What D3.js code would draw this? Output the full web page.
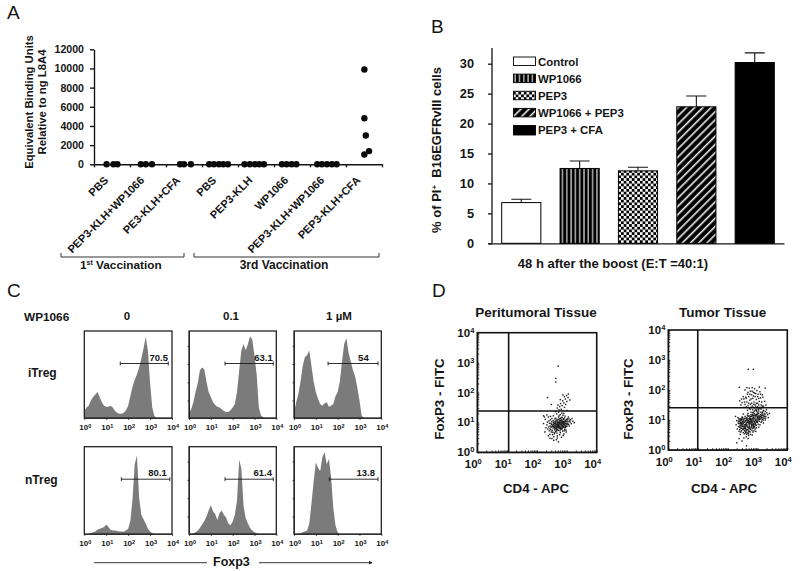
<!DOCTYPE html>
<html><head><meta charset="utf-8">
<script src="https://cdnjs.cloudflare.com/ajax/libs/d3/7.8.5/d3.min.js"></script>
<style>
html,body{margin:0;padding:0;background:#fff}
svg{display:block}
text{font-family:"Liberation Sans",Arial,sans-serif;fill:#151515}
.b{font-weight:bold}
</style></head><body>
<svg id="c" width="800" height="571"></svg>
<script>
// ---------- Panel A ----------
const groupLabels=["PBS","PEP3-KLH+WP1066","PE3-KLH+CFA","PBS","PEP3-KLH","WP1066","PEP3-KLH+WP1066","PEP3-KLH+CFA"];
const bindingTicks=[0,2000,4000,6000,8000,10000,12000];
const dotGroupPos=[.35,.54,.65,1.30,1.44,1.61,2.39,2.5,2.69,3.20,3.33,3.47,3.59,3.72,4.18,4.33,4.47,4.59,4.72,5.22,5.35,5.49,5.62,6.20,6.33,6.47,6.61,6.74,7.51,7.51,7.55,7.51,7.64];
const dotValues=[0,0,0,0,0,0,0,0,0,0,0,0,0,0,0,0,0,0,0,0,0,0,0,0,0,0,0,0,9900,4800,3000,1030,1380];
// ---------- Panel B ----------
const barLabels=["Control","WP1066","PEP3","WP1066 + PEP3","PEP3 + CFA"];
const barValues=[6.8,12.5,12.1,22.8,30.2];
const barUpper=[7.35,13.75,12.7,24.6,31.8];
const barTicks=[0,5,10,15,20,25,30];
// ---------- Panel C ----------
const histDecades=[0,.1,.2,.3,.4,.5,.6,.7,.8,.9,1,1.1,1.2,1.3,1.4,1.5,1.6,1.7,1.8,1.9,2,2.1,2.2,2.3,2.4,2.5,2.6,2.7,2.8,2.9,3,3.1,3.2,3.3,3.4,3.5,4];
const iTreg0=[8,12,14,20,24,27,30,24,18,14,13,13,14,12,8,6,5,5,6,9,14,25,36,44,50,58,68,80,93,78,40,12,2,0,0,0,0];
const iTreg01=[6,10,18,30,40,55,58,56,42,30,24,18,15,13,12,10,8,7,7,9,12,16,30,55,78,85,78,85,94,90,72,50,12,3,1,0,0];
const iTreg1=[6,18,28,42,60,70,72,78,60,42,30,22,16,14,17,18,13,14,16,25,30,42,65,85,92,75,65,55,48,35,20,3,0,0,0,0,0];
const nTreg0=[0,0,0,1,2,3,5,6,7,8,11,8,5,4,4,3.5,3,3,3,4,6,15,40,80,90,42,22,17,12,6,3,1,0,0,0,0,0];
const nTreg01=[0,0,1,2,4,7,11,15,20,27,33,26,23,16,24,27,22,19,12,10,14,22,38,85,75,32,18,12,7,4,2,1,0,0,0,0,0];
const nTreg1=[0,0,0,1,2,3,4,12,35,60,82,76,72,88,94,80,86,65,30,10,2,0,0,0,0,0,0,0,0,0,0,0,0,0,0,0,0];
const gateStart=[1.64,1.65,1.56,1.69,1.65,1.62];
const gateEnd=[3.83,3.86,3.85,3.9,3.86,3.85];
const gatePct=["70.5","63.1","54","80.1","61.4","13.8"];
const doseLabels=["0","0.1","1 µM"];
const decadeLabels=[0,1,2,3,4];
// ---------- Panel D (log10 x 100) ----------
const periCloud=[275,95,262,88,281,102,290,110,268,76,255,99,247,84,299,95,305,118,286,71,272,118,258,62,240,105,233,92,311,101,296,83,278,66,265,108,251,73,243,60,287,124,270,87,293,77,283,91,260,112,249,93,276,59,301,108,317,113,236,78,266,94,285,84,272,101,254,81,291,99,279,113,263,70,245,109,298,68,308,88,288,56,256,52,274,79,282,109,269,99,252,90,294,121,303,97,239,85,277,84,261,95,289,92,267,64,284,117,271,73,257,104,248,68,295,106,280,77,264,83,250,113,309,105,273,90,286,96,259,75,242,97,300,87,276,104,292,115,268,55,253,67,283,80,270,110,262,101,297,74,288,103,278,94,265,87,244,88,306,93,281,88,256,86,274,108,290,83,271,93,260,66,246,76,315,96,285,101,266,78,279,99,294,90,258,97,235,101,302,112,320,104,273,84,263,114,252,59,287,87,277,72,269,92,296,102,283,97,261,80,254,106,291,72,241,72,275,112,230,82,228,110,312,109,325,99,222,96,226,68,238,55,250,46,265,42,272,35,256,40,243,47,268,48,282,50,290,61,238,118,225,118,245,120,255,122,222,122,233,125,
  // dense core
  273,98,277,91,282,95,268,90,264,93,259,88,286,104,291,95,295,87,279,106,270,96,275,86,284,78,266,85,262,97,257,92,287,98,292,103,298,110,280,83,272,88,267,101,276,100,283,108,289,86,293,94,271,82,265,72,260,84,255,94,250,86,288,112,281,116,274,122,268,105,263,104,278,80,285,90,290,101,296,96,301,92,304,103,307,112,299,103,294,84,269,84,264,78,258,82,253,88,247,96,244,78,249,102,
  // upper tail
  266,128,272,134,278,126,283,131,274,142,268,148,281,144,288,139,292,150,276,153,270,158,284,156,296,160,290,165,300,170,286,172,279,163,295,178,304,183,292,186,299,190,278,176,287,192,305,195,310,175,262,136,290,130,300,140,235,183,248,160,
  // outliers
  271,288,263,247,263,235];
const tumorCloud=[286,100,270,92,300,108,310,118,264,80,254,100,246,84,278,76,292,88,322,120,304,130,282,114,262,66,272,62,250,70,240,94,258,112,296,74,316,102,328,112,288,64,276,106,268,122,290,130,306,96,244,60,252,88,266,98,284,90,298,120,312,136,280,82,260,76,274,96,294,102,308,84,320,132,236,78,248,110,256,54,270,48,286,74,302,112,278,118,264,108,288,96,254,72,242,104,296,92,314,114,326,128,284,124,272,84,262,90,250,96,238,88,276,68,292,110,304,122,318,108,268,74,258,62,280,100,300,94,290,78,246,72,334,118,310,104,282,72,266,56,274,110,256,84,244,92,286,116,298,128,322,106,294,62,264,100,252,58,278,90,270,104,240,68,306,140,316,124,288,106,260,98,248,78,282,84,296,114,272,76,284,60,302,86,330,134,312,92,276,52,262,44,254,40,268,38,236,96,232,70,242,52,250,108,290,94,308,110,280,112,298,100,274,88,258,106,266,116,288,84,304,76,320,90,294,134,286,126,246,102,238,62,270,60,282,50,264,86,276,98,292,70,318,128,326,100,340,122,336,108,300,118,314,96,256,92,244,80,228,84,230,98,226,112,234,108,252,120,260,58,272,72,284,104,296,82,306,104,278,126,268,112,290,116,252,78,242,88,248,90,262,104,274,102,286,88,302,100,280,92,266,68,258,80,272,94,288,74,
  // dense core
  283,96,277,102,271,88,265,94,259,84,255,78,249,92,245,98,241,82,237,104,251,102,261,70,267,78,273,80,279,86,285,82,291,92,297,96,303,104,309,112,315,120,301,124,295,118,289,122,283,118,277,112,271,114,265,104,259,96,253,94,247,106,243,74,257,66,263,60,269,66,275,72,281,78,287,86,293,98,299,106,305,114,311,126,317,116,323,112,313,108,307,102,299,92,293,84,287,78,281,66,275,60,269,54,263,52,258,72,252,68,246,64,240,76,235,90,239,100,245,88,251,80,257,74,263,82,269,98,275,92,281,104,287,110,293,116,299,112,305,108,311,112,319,100,325,120,331,124,327,106,321,114,315,108,291,104,285,108,279,96,273,104,267,92,261,86,255,104,249,84,243,100,
  // upper region
  282,146,292,150,300,156,276,152,268,148,288,160,296,168,306,162,312,150,284,172,274,166,264,160,258,152,270,178,280,184,292,178,302,186,310,174,286,192,276,196,266,186,254,170,248,158,240,164,252,178,244,150,298,198,308,194,290,204,282,208,272,206,318,176,324,162,328,150,316,146,300,144,262,144,272,138,290,140,304,136,284,134,254,142,296,132,310,140,278,170,268,192,260,176,294,188,304,172,280,156,316,184,306,210,258,200,264,208,239,209,294,144,288,152,278,142,270,156,262,172,286,180,296,156,304,150,314,160,320,146,308,142,298,136,286,142,276,136,266,132,256,160,246,170,274,186,282,196,290,190,300,178,310,186,
  // outliers
  269,269,286,269,230,24,263,14,238,38,248,30,326,206];
const cellTissues=["Peritumoral Tissue","Tumor Tissue"];
const decadeValues=[1,10,100,1000,10000];
const gateX=[1.05,0.99], gateY=[1.38,1.41];

const svg=d3.select("#c");
const ink="#151515";
function txt(x,y,s,size,o={}){
  const t=svg.append("text").attr("x",x).attr("y",y).attr("font-size",size).text(s);
  if(o.bold!==false)t.attr("class","b");
  if(o.anchor)t.attr("text-anchor",o.anchor);
  if(o.rot!==undefined)t.attr("transform",`rotate(${o.rot} ${x} ${y})`);
  return t;
}
function sup(t,s,size,dy){t.append("tspan").attr("dy",-dy).attr("font-size",size).text(s);return t;}
function styleAxis(g,w){g.selectAll("path,line").attr("stroke",ink).attr("stroke-width",w);g.select("path.domain").attr("fill","none");}
[["A",7,19],["B",431,33],["C",7,297],["D",432,297]].forEach(d=>txt(d[1],d[2],d[0],19,{bold:false}));

// ---- A ----
const xA=d3.scaleLinear().domain([0,8]).range([94,382]);
const yA=d3.scaleLinear().domain([0,12000]).range([164.3,49.3]);
styleAxis(svg.append("g").attr("transform","translate(94,0)").call(d3.axisLeft(yA).tickValues(bindingTicks).tickFormat(d3.format("d")).tickSize(4).tickSizeOuter(0))
  .call(g=>g.selectAll("text").attr("class","b").attr("font-size",10.6).attr("font-family",null).attr("x",-10)),1.4);
styleAxis(svg.append("g").attr("transform","translate(0,164.3)").call(d3.axisBottom(xA).tickValues(d3.range(0,9)).tickFormat("").tickSize(3).tickSizeOuter(0)),1.4);
svg.append("g").selectAll("circle").data(dotValues).join("circle")
  .attr("cx",(d,i)=>xA(dotGroupPos[i])).attr("cy",d=>yA(d)).attr("r",3.2).attr("fill","#0a0a0a");
groupLabels.forEach((l,i)=>{const x=xA(i+.5)-3;txt(x,181,l,11,{anchor:"end",rot:-45});});
txt(33,102,"Equivalent Binding Units",11.3,{anchor:"middle",rot:-90});
txt(46,102,"Relative to ng L8A4",11.3,{anchor:"middle",rot:-90});
const brackets=[[61,184],[194,379]];
brackets.forEach(b=>svg.append("path").attr("d",d3.line()([[b[0],253],[b[0],257],[b[1],257],[b[1],253]])).attr("fill","none").attr("stroke","#333").attr("stroke-width",1));
sup(txt(80,269,"1",11.8),"st",7,4).append("tspan").attr("dy",4).attr("font-size",11.8).text(" Vaccination");
txt(284,269,"3rd Vaccination",12,{anchor:"middle"});

// ---- B ----
const defs=svg.append("defs");
const patterns=[null,"pv","pc","pd",null];
let p=defs.append("pattern").attr("id","pv").attr("patternUnits","userSpaceOnUse").attr("width",4.3).attr("height",4);
p.append("rect").attr("width",4.3).attr("height",4).attr("fill","#000");p.append("rect").attr("x",2.9).attr("width",1.2).attr("height",4).attr("fill","#ddd");
p=defs.append("pattern").attr("id","pc").attr("patternUnits","userSpaceOnUse").attr("width",5.4).attr("height",5.4);
p.append("rect").attr("width",5.4).attr("height",5.4).attr("fill","#f4f4f4");
p.append("rect").attr("width",2.7).attr("height",2.7).attr("fill","#000");p.append("rect").attr("x",2.7).attr("y",2.7).attr("width",2.7).attr("height",2.7).attr("fill","#000");
p=defs.append("pattern").attr("id","pd").attr("patternUnits","userSpaceOnUse").attr("width",5.8).attr("height",5.8).attr("patternTransform","rotate(45)");
p.append("rect").attr("width",5.8).attr("height",5.8).attr("fill","#000");p.append("rect").attr("x",3.8).attr("width",1.6).attr("height",5.8).attr("fill","#f0f0f0");
const fillFor=i=>i==0?"#fff":i==4?"#000":`url(#${patterns[i]})`;
const xB=d3.scaleBand().domain(barLabels).range([501.7,774.3]).paddingInner(.329).paddingOuter(0);
const yB=d3.scaleLinear().domain([0,30]).range([243.3,63.7]);
styleAxis(svg.append("g").attr("transform","translate(492,0)").call(d3.axisLeft(yB).tickValues(barTicks).tickSize(4).tickSizeOuter(0))
  .call(g=>g.selectAll("text").attr("class","b").attr("font-size",12.8).attr("font-family",null).attr("x",-18))
  .call(g=>g.select("path.domain").attr("d","M0,243.3V48")),1.3);
styleAxis(svg.append("g").attr("transform","translate(0,243.3)").call(d3.axisBottom(d3.scaleLinear().domain([488,784]).range([488,784])).tickValues([]).tickSize(0).tickSizeOuter(0)),1.3);
barValues.forEach((v,i)=>{
  const x=xB(barLabels[i]),w=xB.bandwidth(),c=x+w/2;
  svg.append("path").attr("d",`M${c},${yB(v)}V${yB(barUpper[i])}M${c-10},${yB(barUpper[i])}H${c+10}`).attr("stroke",ink).attr("stroke-width",1.1).attr("fill","none");
  svg.append("rect").attr("x",x).attr("y",yB(v)).attr("width",w).attr("height",yB(0)-yB(v)).attr("fill",fillFor(i)).attr("stroke","#000").attr("stroke-width",1);
});
const legY=d3.scalePoint().domain(barLabels).range([57,125.5]);
barLabels.forEach((l,i)=>{
  svg.append("rect").attr("x",513.5).attr("y",legY(l)).attr("width",22).attr("height",i==4?9.5:8.5).attr("fill",fillFor(i)).attr("stroke","#000").attr("stroke-width",.9);
  txt(538,legY(l)+8.7,l,11.4);
});
const yt=txt(441,150,"% of PI",13,{anchor:"middle",rot:-90});
sup(yt,"+",8,4).append("tspan").attr("dy",4).attr("font-size",13).text("\u00a0\u00a0B16EGFRvIII cells");
txt(613,268,"48 h after the boost (E:T =40:1)",13,{anchor:"middle"});

// ---- C ----
const colX=[[84.3,172],[189,276.3],[294,381.3]];
const rowY=[[331,418],[446.7,534]];
const hists=[iTreg0,iTreg01,iTreg1,nTreg0,nTreg01,nTreg1];
hists.forEach((h,k)=>{
  const c=k%3,r=k<3?0:1,[x0,x1]=colX[c],[y0,y1]=rowY[r];
  const x=d3.scaleLinear().domain([0,4]).range([x0,x1]);
  const y=d3.scaleLinear().domain([0,100]).range([y1,y0]);
  svg.append("path").datum(h).attr("fill","#7b7b7b")
    .attr("d",d3.area().x((d,i)=>x(histDecades[i])).y0(y1).y1(d=>y(d)));
  svg.append("rect").attr("x",x0).attr("y",y0).attr("width",x1-x0).attr("height",y1-y0).attr("fill","none").attr("stroke","#222").attr("stroke-width",1.3);
  styleAxis(svg.append("g").attr("transform",`translate(0,${y1})`).call(d3.axisBottom(x).tickValues([0,1,2,3,4]).tickFormat("").tickSize(2).tickSizeOuter(0)),.7);
  if(c>0){styleAxis(svg.append("g").attr("transform",`translate(${x0},0)`).call(d3.axisLeft(y).tickValues([20,41,62,83]).tickFormat("").tickSize(1.5).tickSizeOuter(0)),.8);}
  decadeLabels.forEach(e=>{
    const t=txt(x(e)+1,y1+12,"10",8,{anchor:"middle"});
    sup(t,String(e),5.5,2.5);
  });
  const gy=y0+32.5,gx0=x(gateStart[k]),gx1=x(gateEnd[k]);
  svg.append("path").attr("d",`M${gx0},${gy-2}V${gy+2}M${gx0},${gy}H${gx1}M${gx1},${gy-2}V${gy+2}`).attr("stroke","#1a1a1a").attr("stroke-width",.9).attr("fill","none");
  const ends=[168,272.7,368.7,166.7,272,375];
  txt(ends[k],gy-3,gatePct[k],9.5,{anchor:"end"});
});
txt(24,320.7,"WP1066",11.8);
doseLabels.forEach((d,i)=>txt([127,231,339][i],320,d,11.5,{anchor:"middle"}));
txt(28,377,"iTreg",12);
txt(25,484,"nTreg",12);
txt(213,566,"Foxp3",12.5);
svg.append("path").attr("d","M94,562.7H207M259,562.7H372").attr("stroke","#222").attr("stroke-width",.9);
svg.append("path").attr("d",d3.line()([[369,560.8],[372.5,562.7],[369,564.6]])).attr("fill","#222");

// ---- D ----
const boxes=[[477.3,596.7,332.7,452.3],[668.3,787.3,330,450]];
const titleX=[536,722.7],xTitleX=[536,724],yTitleX=[444,633];
[periCloud,tumorCloud].forEach((cloud,k)=>{
  const [x0,x1,y0,y1]=boxes[k];
  const x=d3.scaleLog().domain([1,1e4]).range([x0,x1]);
  const y=d3.scaleLog().domain([1,1e4]).range([y1,y0]);
  const pts=d3.pairs(cloud).filter((d,i)=>i%2==0);
  svg.append("g").selectAll("rect").data(pts).join("rect")
    .attr("x",d=>x(Math.pow(10,d[0]/100))-.7).attr("y",d=>y(Math.pow(10,d[1]/100))-.7)
    .attr("width",1.4).attr("height",1.4).attr("fill","#1a1a1a");
  styleAxis(svg.append("g").attr("transform",`translate(0,${y1})`).call(d3.axisBottom(x).tickValues(x.ticks()).tickFormat("").tickSize(-2).tickSizeOuter(0)),.8);
  styleAxis(svg.append("g").attr("transform",`translate(${x0},0)`).call(d3.axisLeft(y).tickValues(y.ticks()).tickFormat("").tickSize(-2).tickSizeOuter(0)),.8);
  svg.append("rect").attr("x",x0).attr("y",y0).attr("width",x1-x0).attr("height",y1-y0).attr("fill","none").attr("stroke","#111").attr("stroke-width",1.6);
  const vx=x(Math.pow(10,gateX[k])),hy=y(Math.pow(10,gateY[k]));
  svg.append("path").attr("d",`M${vx},${y0}V${y1}M${x0},${hy}H${x1}`).attr("stroke","#111").attr("stroke-width",1.6);
  decadeValues.forEach((v,e)=>{
    sup(txt(x(v)-4,y1+15.7,"10",11.5,{anchor:"middle"}),String(e),7.5,4);
    sup(txt(x0-3,y(v)+4,"10",11.5,{anchor:"end"}),String(e),7.5,4);
  });
  txt(titleX[k],316.7,cellTissues[k],13.5,{anchor:"middle"});
  txt(xTitleX[k],493,"CD4 - APC",13.3,{anchor:"middle"});
  txt(yTitleX[k],399,"FoxP3 - FITC",13.3,{anchor:"middle",rot:-90});
});
</script>
</body></html>
